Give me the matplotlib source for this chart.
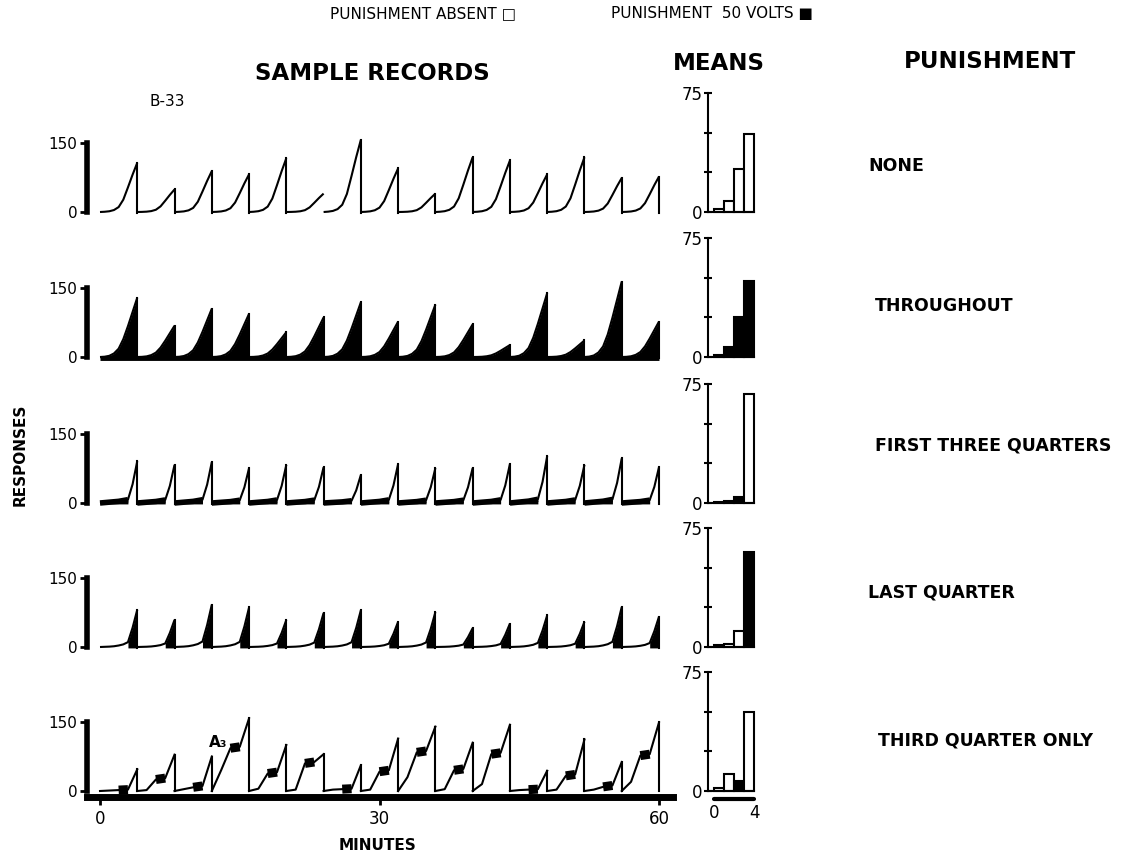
import numpy as np
import matplotlib
matplotlib.use("Agg")
import matplotlib.pyplot as plt

# ---- data ----
conditions = ["NONE", "THROUGHOUT", "FIRST THREE QUARTERS", "LAST QUARTER", "THIRD QUARTER ONLY"]

# peak of each 4-min scallop (responses), panels 1-4
peaks_none = [107, 49, 89, 82, 117, 40, 157, 95, 40, 119, 112, 82, 119, 74, 77]
peaks_throughout = [129, 68, 105, 94, 54, 86, 119, 77, 114, 71, 26, 139, 36, 164, 77]
peaks_first3 = [91, 83, 89, 76, 83, 78, 61, 85, 76, 76, 85, 102, 83, 97, 78]
peaks_last = [81, 59, 92, 86, 59, 74, 80, 55, 76, 41, 51, 69, 55, 87, 66]
resets_none = [1, 1, 1, 1, 1, 0, 1, 1, 1, 1, 1, 1, 1, 1, 1]

# cumulative shape of a scallop at eighths of the interval
eighths = [0, 0.125, 0.25, 0.375, 0.5, 0.625, 0.75, 0.875, 1]
shape_none = [0, 0.005, 0.015, 0.04, 0.1, 0.25, 0.5, 0.76, 1]
shape_throughout = [0, 0.005, 0.02, 0.06, 0.14, 0.3, 0.52, 0.76, 1]
shape_first3 = [0, 0.01, 0.02, 0.03, 0.04, 0.06, 0.08, 0.45, 1]
shape_last = [0, 0.005, 0.01, 0.02, 0.04, 0.07, 0.13, 0.52, 1]

# third quarter only: cumulative count at the end of each quarter
q1_third = [1, 2, 4, 45, 5, 3, 3, 3, 30, 4, 15, 2, 3, 3, 20]
q2_third = [2, 25, 8, 93, 38, 60, 4, 42, 84, 45, 80, 3, 33, 9, 77]
q3_third = [3, 28, 11, 96, 41, 63, 5, 45, 87, 48, 83, 4, 36, 12, 80]
q4_third = [47, 79, 75, 158, 100, 80, 56, 114, 140, 105, 144, 44, 112, 63, 149]

# mean responses per quarter of the interval
means_none = [2, 7, 27, 49]
means_throughout = [1, 6, 25, 48]
means_first3 = [0.5, 1, 3.5, 69]
means_last = [1, 2, 10, 60]
means_third = [2, 10.5, 6, 50]
punished = [[0, 0, 0, 0], [1, 1, 1, 1], [1, 1, 1, 0], [0, 0, 0, 1], [0, 0, 1, 0]]

W, H = 1129, 857
fig = plt.figure(figsize=(W / 100, H / 100), dpi=100)
plt.rcParams['font.family'] = 'DejaVu Sans'

def fx(x):
  return x / W

def fy(y):
  return 1 - y / H

# record axes geometry (pixels)
X0, K = 100, 559 / 60.0
XMIN, XMAX = -3.5, 62
YMIN, YMAX, S = -25, 180, 69 / 150.0
zeros = [212, 357, 503, 647, 791]

# means axes geometry
MX0, MK = 714, 10.0
MXMIN, MXMAX = -1.5, 5
MYMIN, MYMAX, MS = -8, 80, 119 / 75.0

def record_axes(y0):
  left = X0 + XMIN * K
  right = X0 + XMAX * K
  top = y0 - YMAX * S
  bottom = y0 - YMIN * S
  ax = fig.add_axes([fx(left), fy(bottom), (right - left) / W, (bottom - top) / H])
  ax.set_xlim(XMIN, XMAX)
  ax.set_ylim(YMIN, YMAX)
  ax.patch.set_alpha(0)
  for s in ['top', 'right', 'bottom']:
    ax.spines[s].set_visible(False)
  ax.spines['left'].set_position(('data', -1.4))
  ax.spines['left'].set_bounds(0, 150)
  ax.spines['left'].set_linewidth(4)
  ax.set_yticks([0, 150])
  ax.set_yticklabels(['0', '150'], fontsize=11)
  ax.tick_params(axis='y', length=5, width=2, pad=2)
  ax.set_xticks([])
  return ax

def means_axes(y0):
  left = MX0 + MXMIN * MK
  right = MX0 + MXMAX * MK
  top = y0 - MYMAX * MS
  bottom = y0 - MYMIN * MS
  ax = fig.add_axes([fx(left), fy(bottom), (right - left) / W, (bottom - top) / H])
  ax.set_xlim(MXMIN, MXMAX)
  ax.set_ylim(MYMIN, MYMAX)
  ax.patch.set_alpha(0)
  for s in ['top', 'right']:
    ax.spines[s].set_visible(False)
  ax.spines['left'].set_position(('data', -0.6))
  ax.spines['left'].set_bounds(0, 75)
  ax.spines['left'].set_linewidth(1.5)
  ax.spines['bottom'].set_position(('data', 0))
  ax.spines['bottom'].set_bounds(-0.6, 4)
  ax.spines['bottom'].set_linewidth(1.5)
  ax.set_yticks([0, 25, 50, 75])
  ax.set_yticklabels(['0', '', '', '75'], fontsize=12)
  ax.tick_params(axis='y', direction='inout', length=6, width=1.5, pad=1)
  ax.set_xticks([])
  return ax

def draw_scallops(ax, peaks, shape, fill_from=None, fill_to=None, thick=False, resets=None):
  f = np.array(eighths)
  sh = np.array(shape)
  for k, p in enumerate(peaks):
    t = 4 * k + 4 * f
    y = p * sh
    ax.plot(t, y, color='black', lw=1.5, solid_capstyle='butt')
    if resets is None or resets[k]:
      ax.plot([t[-1], t[-1]], [p, -3], color='black', lw=1.5)
    if fill_from is not None:
      m = (f >= fill_from) & (f <= fill_to)
      ax.fill_between(t[m], -2, y[m], color='black', lw=0)
      if thick:
        ax.plot(t[m], y[m], color='black', lw=4, solid_capstyle='butt')

# panel 1: none
ax = record_axes(zeros[0])
draw_scallops(ax, peaks_none, shape_none, resets=resets_none)
# panel 2: throughout
ax = record_axes(zeros[1])
draw_scallops(ax, peaks_throughout, shape_throughout, fill_from=0, fill_to=1)
ax.plot([0, 60], [-2, -2], color='black', lw=3.5, solid_capstyle='butt')
# panel 3: first three quarters
ax = record_axes(zeros[2])
draw_scallops(ax, peaks_first3, shape_first3, fill_from=0, fill_to=0.75, thick=True)
# panel 4: last quarter
ax = record_axes(zeros[3])
draw_scallops(ax, peaks_last, shape_last, fill_from=0.75, fill_to=1)
# panel 5: third quarter only
ax = record_axes(zeros[4])
for k in range(len(q4_third)):
  t = 4 * k + np.arange(5)
  y = [0, q1_third[k], q2_third[k], q3_third[k], q4_third[k]]
  ax.plot(t, y, color='black', lw=1.5)
  ax.plot(t[2:4], y[2:4], color='black', lw=6.5, solid_capstyle='butt')
  ax.plot([t[-1], t[-1]], [y[-1], 0], color='black', lw=1.5)
ax.text(12.7, 105, 'A\u2083', fontsize=11, fontweight='bold', ha='center', va='center')
ax.spines['bottom'].set_visible(True)
ax.spines['bottom'].set_position(('data', -14))
ax.spines['bottom'].set_bounds(-1.4, 61.5)
ax.spines['bottom'].set_linewidth(5)
ax.set_xticks([0, 30, 60])
ax.set_xticklabels(['0', '30', '60'], fontsize=12)
ax.tick_params(axis='x', length=6, width=2, pad=3)

# means bar charts
means_all = [means_none, means_throughout, means_first3, means_last, means_third]
for i, vals in enumerate(means_all):
  ax = means_axes(zeros[i])
  colors = ['black' if p else 'white' for p in punished[i]]
  ax.bar(np.arange(4), vals, width=1, align='edge', color=colors, edgecolor='black', linewidth=1.5)
  if i == 4:
    ax.plot([0, 4], [-5, -5], color='black', lw=3, solid_capstyle='round')
    ax.set_xticks([0, 4])
    ax.set_xticklabels(['0', '4'], fontsize=12)
    ax.tick_params(axis='x', length=0, pad=9)

# titles and labels
fig.text(fx(330), fy(14), 'PUNISHMENT ABSENT \u25a1', fontsize=11, ha='left', va='center')
fig.text(fx(611), fy(14), 'PUNISHMENT  50 VOLTS \u25a0', fontsize=11, ha='left', va='center')
fig.text(fx(372), fy(74), 'SAMPLE RECORDS', fontsize=16.5, fontweight='bold', ha='center', va='center')
fig.text(fx(719), fy(64), 'MEANS', fontsize=16.5, fontweight='bold', ha='center', va='center')
fig.text(fx(990), fy(62), 'PUNISHMENT', fontsize=16.5, fontweight='bold', ha='center', va='center')
fig.text(fx(167), fy(102), 'B-33', fontsize=11, ha='center', va='center')
fig.text(fx(20), fy(455), 'RESPONSES', fontsize=11, fontweight='bold', rotation=90, ha='center', va='center')
fig.text(fx(378), fy(845), 'MINUTES', fontsize=11, fontweight='bold', ha='center', va='center')

label_x = [868, 875, 875, 868, 878]
label_y = [166, 306, 445, 592, 741]
for name, lx, ly in zip(conditions, label_x, label_y):
  fig.text(fx(lx), fy(ly), name, fontsize=12.5, fontweight='bold', ha='left', va='center')

fig.savefig('out.png', dpi=100)
